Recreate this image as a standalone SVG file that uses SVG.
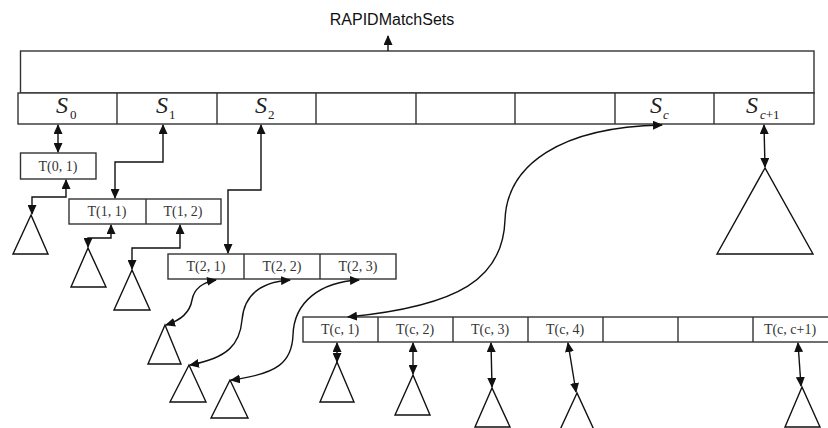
<svg xmlns="http://www.w3.org/2000/svg" width="828" height="428" viewBox="0 0 828 428">
  <style>
    .box { fill: #fff; stroke: #333; stroke-width: 1.4; }
    .div { stroke: #333; stroke-width: 1.4; }
    .tri { fill: #fff; stroke: #111; stroke-width: 1.4; stroke-linejoin: miter; }
    .lbl { font-family: "Liberation Serif", "Times New Roman", serif; font-size: 14px; fill: #333; text-anchor: middle; }
    .s { font-family: "Liberation Serif", "Times New Roman", serif; font-style: italic; font-size: 24px; fill: #222; }
    .sub { font-family: "Liberation Serif", "Times New Roman", serif; font-size: 13px; fill: #222; }
    .title { font-family: "Liberation Sans", Arial, sans-serif; font-size: 16px; fill: #111; text-anchor: middle; }
    .conn path, .conn line { fill: none; stroke: #111; stroke-width: 1.4; }
  </style>
  <defs>
    <marker id="head" markerUnits="userSpaceOnUse" markerWidth="10" markerHeight="9" refX="9" refY="4.5" orient="auto-start-reverse">
      <path d="M0,0 L10,4.5 L0,9 z" fill="#111"/>
    </marker>
  </defs>

  <rect width="828" height="428" fill="#fff"/>

  <!-- title -->
  <g id="title">
    <text class="title" x="392" y="25">RAPIDMatchSets</text>
  </g>

  <!-- top-level set array -->
  <g id="sets">
    <rect class="box" x="20.5" y="51" width="793.5" height="42"/>
    <rect class="box" x="18" y="93" width="796" height="31"/>
    <line class="div" x1="117" y1="93" x2="117" y2="124"/>
    <line class="div" x1="217" y1="93" x2="217" y2="124"/>
    <line class="div" x1="316" y1="93" x2="316" y2="124"/>
    <line class="div" x1="416" y1="93" x2="416" y2="124"/>
    <line class="div" x1="515" y1="93" x2="515" y2="124"/>
    <line class="div" x1="615" y1="93" x2="615" y2="124"/>
    <line class="div" x1="714" y1="93" x2="714" y2="124"/>
    <text class="s" x="56" y="113">S</text><text class="sub" x="70" y="119">0</text>
    <text class="s" x="156" y="113">S</text><text class="sub" x="169" y="119">1</text>
    <text class="s" x="255" y="113">S</text><text class="sub" x="268" y="119">2</text>
    <text class="s" x="650" y="113">S</text><text class="sub" x="663" y="119" font-style="italic">c</text>
    <text class="s" x="746" y="113">S</text><text class="sub" x="760" y="119"><tspan font-style="italic">c</tspan>+1</text>
  </g>

  <!-- level 0 -->
  <g id="t0">
    <rect class="box" x="20.5" y="153" width="75.5" height="26"/>
    <text class="lbl" x="58" y="171">T(0, 1)</text>
  </g>

  <!-- level 1 -->
  <g id="t1">
    <rect class="box" x="69" y="199" width="152" height="25"/>
    <line class="div" x1="146" y1="199" x2="146" y2="224"/>
    <text class="lbl" x="107" y="216">T(1, 1)</text>
    <text class="lbl" x="183" y="216">T(1, 2)</text>
  </g>

  <!-- level 2 -->
  <g id="t2">
    <rect class="box" x="168" y="254" width="228" height="25"/>
    <line class="div" x1="244" y1="254" x2="244" y2="279"/>
    <line class="div" x1="320" y1="254" x2="320" y2="279"/>
    <text class="lbl" x="206" y="271">T(2, 1)</text>
    <text class="lbl" x="282" y="271">T(2, 2)</text>
    <text class="lbl" x="358" y="271">T(2, 3)</text>
  </g>

  <!-- level c -->
  <g id="tc">
    <rect class="box" x="303" y="317" width="526" height="25"/>
    <line class="div" x1="378" y1="317" x2="378" y2="342"/>
    <line class="div" x1="453" y1="317" x2="453" y2="342"/>
    <line class="div" x1="528" y1="317" x2="528" y2="342"/>
    <line class="div" x1="603" y1="317" x2="603" y2="342"/>
    <line class="div" x1="678" y1="317" x2="678" y2="342"/>
    <line class="div" x1="753" y1="317" x2="753" y2="342"/>
    <text class="lbl" x="340" y="334">T(c, 1)</text>
    <text class="lbl" x="415" y="334">T(c, 2)</text>
    <text class="lbl" x="490" y="334">T(c, 3)</text>
    <text class="lbl" x="565" y="334">T(c, 4)</text>
    <text class="lbl" x="790" y="334">T(c, c+1)</text>
  </g>

  <!-- subtrees -->
  <g id="trees">
    <polygon class="tri" points="31,215 13,254 48,254"/>
    <polygon class="tri" points="88,248 71,287 106,287"/>
    <polygon class="tri" points="132,270 114,310 150,310"/>
    <polygon class="tri" points="165,325 148,364 181,364"/>
    <polygon class="tri" points="189,365 170,402 206,402"/>
    <polygon class="tri" points="230,380 211,418 248,418"/>
    <polygon class="tri" points="337,362 320,402 354,402"/>
    <polygon class="tri" points="413,375 395,415 430,415"/>
    <polygon class="tri" points="492,388 475,427 510,427"/>
    <polygon class="tri" points="577,393 559,432 595,432"/>
    <polygon class="tri" points="802,387 785,427 820,427"/>
    <polygon class="tri" points="765,168 717,254 813,254"/>
  </g>

  <!-- connectors -->
  <g id="connectors" class="conn">
    <line x1="388" y1="51" x2="388" y2="36" marker-end="url(#head)"/>
    <line x1="58" y1="125" x2="58" y2="152" marker-start="url(#head)" marker-end="url(#head)"/>
    <path d="M163,125 V162 H115 V198" marker-start="url(#head)" marker-end="url(#head)"/>
    <path d="M261,125 V190 H228 V253" marker-start="url(#head)" marker-end="url(#head)"/>
    <path d="M66,180 V197 H32 V214" marker-start="url(#head)" marker-end="url(#head)"/>
    <path d="M111,225 V238 H88 V247" marker-start="url(#head)" marker-end="url(#head)"/>
    <path d="M180,225 V248 H132 V269" marker-start="url(#head)" marker-end="url(#head)"/>
    <path d="M216,280 C203,282 194,289 192,300 C190,312 182,320 166,325" marker-start="url(#head)" marker-end="url(#head)"/>
    <path d="M290,280 C260,282 244,296 242,320 C240,344 228,358 190,365" marker-start="url(#head)" marker-end="url(#head)"/>
    <path d="M359,280 C320,282 294,302 293,335 C292,362 278,374 231,380" marker-start="url(#head)" marker-end="url(#head)"/>
    <path d="M662,125 C560,127 507,165 505,220 C503,278 460,306 348,317" marker-start="url(#head)" marker-end="url(#head)"/>
    <line x1="337" y1="343" x2="337" y2="362" marker-start="url(#head)" marker-end="url(#head)"/>
    <line x1="413" y1="343" x2="413" y2="374" marker-start="url(#head)" marker-end="url(#head)"/>
    <line x1="491" y1="343" x2="492" y2="387" marker-start="url(#head)" marker-end="url(#head)"/>
    <line x1="568" y1="343" x2="576" y2="392" marker-start="url(#head)" marker-end="url(#head)"/>
    <line x1="798" y1="343" x2="801" y2="386" marker-start="url(#head)" marker-end="url(#head)"/>
    <line x1="764" y1="125" x2="765" y2="167" marker-start="url(#head)" marker-end="url(#head)"/>
  </g>
</svg>
